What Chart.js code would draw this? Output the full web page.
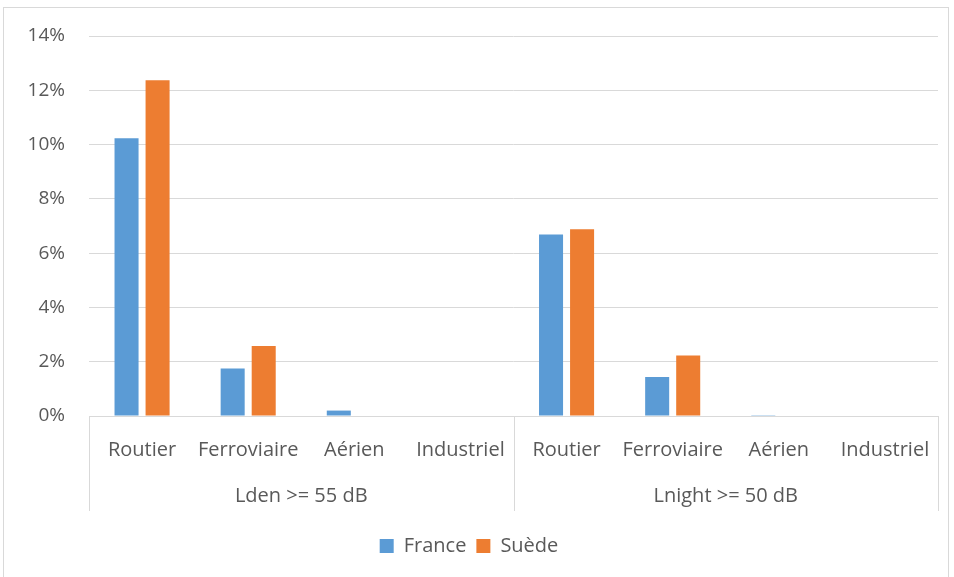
<!DOCTYPE html>
<html>
<head>
<meta charset="utf-8">
<script src="https://cdn.jsdelivr.net/npm/chart.js@4.4.0/dist/chart.umd.min.js"></script>
<style>
html,body{margin:0;padding:0;background:#fff;}
#wrap{position:absolute;left:0;top:0;width:954px;height:577px;}
</style>
</head>
<body>
<div id="wrap"><canvas id="c" width="954" height="577"></canvas></div>
<script>
const categories = ['Routier', 'Ferroviaire', 'Aérien', 'Industriel', 'Routier', 'Ferroviaire', 'Aérien', 'Industriel'];
const groupLabels = ['Lden >= 55 dB', 'Lnight >= 50 dB'];
const franceValues = [10.23, 1.75, 0.2, 0, 6.69, 1.44, 0.03, 0];
const suedeValues = [12.37, 2.58, 0, 0, 6.88, 2.23, 0, 0];
const yTicks = [0, 2, 4, 6, 8, 10, 12, 14];

const FONT = "'Open Sans', 'Liberation Sans', sans-serif";
const TEXT = '#595959';
const GRID = '#d9d9d9';

const framePlugin = {
  id: 'frame',
  beforeDraw(chart) {
    const ctx = chart.ctx;
    ctx.save();
    ctx.fillStyle = '#fff';
    ctx.fillRect(0, 0, chart.width, chart.height);
    ctx.strokeStyle = GRID;
    ctx.lineWidth = 1;
    ctx.strokeRect(3.5, 7.5, 945, 580);
    ctx.restore();
  },
  afterDraw(chart) {
    const x = chart.scales.x, x2 = chart.scales.x2;
    const ctx = chart.ctx;
    const top = chart.chartArea.bottom;
    const bottom = x2.top + 35;
    const mid = (x.getPixelForValue(3) + x.getPixelForValue(4)) / 2;
    ctx.save();
    ctx.strokeStyle = GRID;
    ctx.lineWidth = 1;
    [chart.chartArea.left, mid, chart.chartArea.right].forEach(px => {
      const p = Math.round(px) + 0.5;
      ctx.beginPath();
      ctx.moveTo(p, top);
      ctx.lineTo(p, bottom);
      ctx.stroke();
    });
    ctx.restore();
  }
};

new Chart(document.getElementById('c'), {
  type: 'bar',
  data: {
    labels: categories,
    datasets: [
      { label: 'France', data: franceValues, backgroundColor: '#5B9BD5', borderWidth: 0,
        categoryPercentage: 0.585, barPercentage: 0.774 },
      { label: 'Suède', data: suedeValues, backgroundColor: '#ED7D31', borderWidth: 0,
        categoryPercentage: 0.585, barPercentage: 0.774 }
    ]
  },
  options: {
    responsive: false,
    animation: false,
    layout: { padding: { top: 36, right: 16, left: 0, bottom: 11 } },
    plugins: {
      legend: {
        position: 'bottom',
        labels: {
          font: { family: FONT, size: 20 },
          color: TEXT,
          boxWidth: 14,
          boxHeight: 14,
          padding: 10
        }
      },
      tooltip: { enabled: false }
    },
    scales: {
      y: {
        min: 0, max: 14,
        afterBuildTicks(scale) { scale.ticks = yTicks.map(v => ({ value: v })); },
        ticks: {
          callback: v => v + '%',
          font: { family: FONT, size: 19 },
          color: TEXT,
          padding: 24
        },
        grid: { color: GRID, lineWidth: 1, drawTicks: false },
        border: { display: false },
        afterFit(scale) { scale.width = 89; }
      },
      x: {
        type: 'category',
        grid: { display: false },
        border: { display: true, color: GRID },
        ticks: {
          font: { family: FONT, size: 20 },
          color: TEXT,
          padding: 14,
          maxRotation: 0,
          autoSkip: false
        },
        afterFit(scale) { scale.height = 60; }
      },
      x2: {
        type: 'category',
        labels: groupLabels,
        position: 'bottom',
        offset: true,
        grid: { display: false },
        border: { display: false },
        ticks: {
          font: { family: FONT, size: 20 },
          color: TEXT,
          padding: 0,
          maxRotation: 0
        },
        afterFit(scale) { scale.height = 50; }
      }
    }
  },
  plugins: [framePlugin]
});
</script>
</body>
</html>
